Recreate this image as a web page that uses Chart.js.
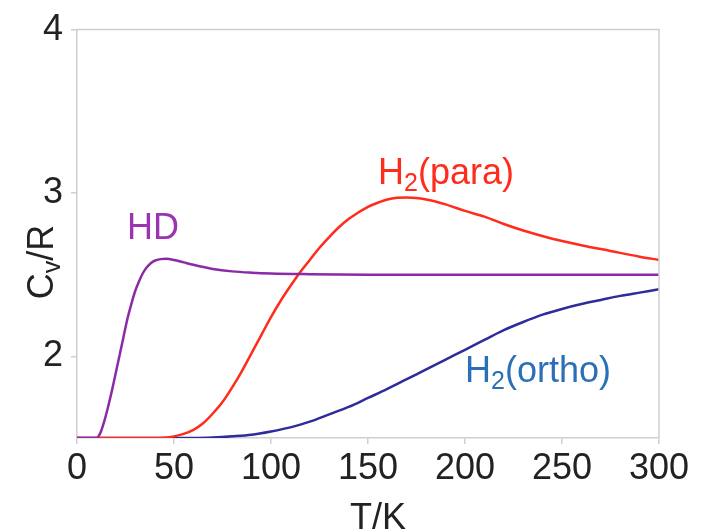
<!DOCTYPE html>
<html>
<head>
<meta charset="utf-8">
<script src="https://cdn.jsdelivr.net/npm/chart.js@4.4.1/dist/chart.umd.min.js"></script>
<style>
  html, body { margin: 0; padding: 0; background: #ffffff; }
  #wrap { width: 717px; height: 532px; position: relative; }
</style>
</head>
<body>
<div id="wrap"><canvas id="c" width="717" height="532"></canvas></div>
<script>
// ---- Data ----
const hdT = [0, 5, 10, 12, 14, 16, 18, 20, 22, 24, 26, 28, 30, 32, 34, 36, 38, 40, 43, 46, 50, 55, 60, 70, 80, 90, 100, 120, 150, 200, 250, 300];
const hdCv = [1.5, 1.5, 1.5, 1.53, 1.6, 1.69, 1.79, 1.9, 2.01, 2.12, 2.23, 2.32, 2.40, 2.46, 2.51, 2.545, 2.57, 2.585, 2.595, 2.597, 2.59, 2.575, 2.56, 2.535, 2.52, 2.512, 2.507, 2.503, 2.5, 2.5, 2.5, 2.5];

const paraT = [0, 20, 40, 45, 50, 55, 60, 65, 70, 75, 80, 85, 90, 95, 100, 105, 110, 115, 120, 125, 130, 135, 140, 145, 150, 155, 160, 165, 170, 180, 190, 200, 210, 220, 230, 245, 260, 275, 290, 300];
const paraCv = [1.5, 1.5, 1.5, 1.502, 1.51, 1.525, 1.55, 1.59, 1.65, 1.72, 1.81, 1.91, 2.02, 2.13, 2.24, 2.34, 2.43, 2.515, 2.59, 2.665, 2.73, 2.79, 2.84, 2.88, 2.915, 2.94, 2.96, 2.97, 2.972, 2.96, 2.93, 2.89, 2.855, 2.81, 2.77, 2.72, 2.68, 2.645, 2.61, 2.59];

const orthoT = [0, 40, 60, 70, 80, 90, 100, 110, 120, 130, 140, 150, 160, 170, 180, 190, 200, 210, 220, 230, 240, 250, 260, 270, 280, 290, 300];
const orthoCv = [1.5, 1.5, 1.5, 1.503, 1.51, 1.52, 1.54, 1.565, 1.60, 1.645, 1.69, 1.745, 1.80, 1.86, 1.92, 1.98, 2.04, 2.10, 2.16, 2.21, 2.255, 2.29, 2.32, 2.345, 2.37, 2.39, 2.41];

const xTicks = [0, 50, 100, 150, 200, 250, 300];
const yTicks = [2, 3, 4];

const seriesNames = ['HD', 'H2(para)', 'H2(ortho)'];

// Curve labels: [text, isSubscript] parts, anchored in data units
const curveLabels = [
  { parts: [['HD', false]], T: 25.8, cv: 2.72, color: '#9b34b3' },
  { parts: [['H', false], ['2', true], ['(para)', false]], T: 155.2, cv: 3.055, color: '#ff2b1b' },
  { parts: [['H', false], ['2', true], ['(ortho)', false]], T: 200, cv: 1.84, color: '#2b6fb6' }
];

const FONT = '"Liberation Sans", Arial, Helvetica, sans-serif';
const MAIN = 36, SUB = 25, SUBDROP = 7;

function toPts(xs, ys) { return xs.map((x, i) => ({ x: x, y: ys[i] })); }

function richWidth(ctx, parts) {
  let w = 0;
  for (const [t, sub] of parts) {
    ctx.font = (sub ? SUB : MAIN) + 'px ' + FONT;
    w += ctx.measureText(t).width;
  }
  return w;
}
function drawRich(ctx, parts, x, y) {
  let cx = x;
  ctx.textBaseline = 'alphabetic';
  ctx.textAlign = 'left';
  for (const [t, sub] of parts) {
    ctx.font = (sub ? SUB : MAIN) + 'px ' + FONT;
    ctx.fillText(t, cx, y + (sub ? SUBDROP : 0));
    cx += ctx.measureText(t).width;
  }
}

const decor = {
  id: 'decor',
  afterDraw(chart) {
    const ctx = chart.ctx;
    const a = chart.chartArea;
    const xs = chart.scales.x, ys = chart.scales.y;
    ctx.save();
    ctx.strokeStyle = '#cfcfcf';
    ctx.lineWidth = 1.5;
    ctx.beginPath();
    ctx.moveTo(a.left, a.top); ctx.lineTo(a.right, a.top); ctx.lineTo(a.right, a.bottom);
    ctx.stroke();

    for (const L of curveLabels) {
      ctx.fillStyle = L.color;
      drawRich(ctx, L.parts, xs.getPixelForValue(L.T), ys.getPixelForValue(L.cv));
    }

    ctx.fillStyle = '#222222';
    const xt = [['T/K', false]];
    const xw = richWidth(ctx, xt);
    drawRich(ctx, xt, 378 - xw / 2, 529);

    const yt = [['C', false], ['v', true], ['/R', false]];
    const yw = richWidth(ctx, yt);
    ctx.translate(53, 262);
    ctx.rotate(-Math.PI / 2);
    drawRich(ctx, yt, -yw / 2, 0);
    ctx.restore();
  }
};

new Chart(document.getElementById('c'), {
  type: 'line',
  data: {
    datasets: [
      { label: seriesNames[0], data: toPts(hdT, hdCv), borderColor: '#8b2aa6', borderWidth: 2.5, pointRadius: 0, cubicInterpolationMode: 'monotone', fill: false },
      { label: seriesNames[1], data: toPts(paraT, paraCv), borderColor: '#ff2b1b', borderWidth: 2.5, pointRadius: 0, cubicInterpolationMode: 'monotone', fill: false },
      { label: seriesNames[2], data: toPts(orthoT, orthoCv), borderColor: '#2e2b9b', borderWidth: 2.5, pointRadius: 0, cubicInterpolationMode: 'monotone', fill: false }
    ]
  },
  options: {
    responsive: false,
    animation: false,
    devicePixelRatio: 1,
    layout: { padding: { left: 0, right: 58, top: 29, bottom: 0 } },
    plugins: { legend: { display: false }, tooltip: { enabled: false } },
    scales: {
      x: {
        type: 'linear', min: 0, max: 300,
        afterBuildTicks: s => { s.ticks = xTicks.map(v => ({ value: v })); },
        afterFit: s => { s.height = 94; },
        border: { color: '#cfcfcf', width: 1.5 },
        grid: { drawOnChartArea: false, drawTicks: true, tickLength: 6, color: '#cfcfcf', lineWidth: 1.5 },
        ticks: { color: '#222222', font: { family: FONT, size: MAIN }, padding: 3, maxRotation: 0 }
      },
      y: {
        type: 'linear', min: 1.5, max: 4,
        afterBuildTicks: s => { s.ticks = yTicks.map(v => ({ value: v })); },
        afterFit: s => { s.width = 77; },
        border: { color: '#cfcfcf', width: 1.5 },
        grid: { drawOnChartArea: false, drawTicks: true, tickLength: 6, color: '#cfcfcf', lineWidth: 1.5 },
        ticks: { color: '#222222', font: { family: FONT, size: MAIN }, padding: 8 }
      }
    }
  },
  plugins: [decor]
});
</script>
</body>
</html>
